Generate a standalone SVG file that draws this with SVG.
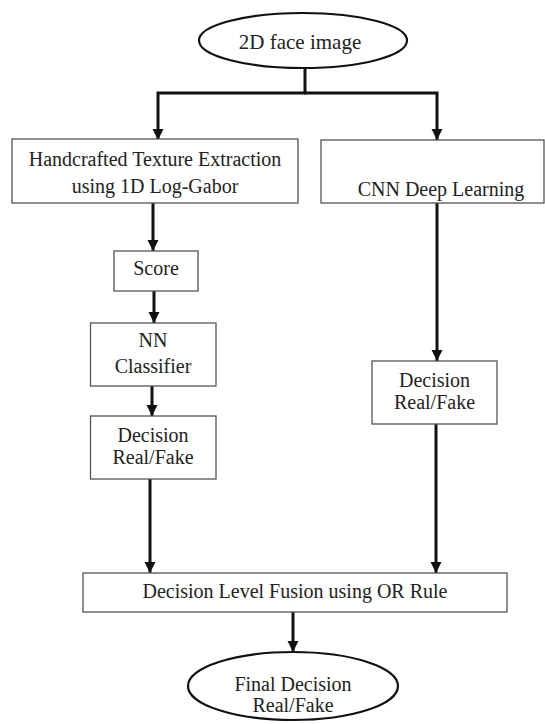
<svg xmlns="http://www.w3.org/2000/svg" width="545" height="724" viewBox="0 0 545 724">
<style>
.box{fill:#fff;stroke:#555;stroke-width:1.3}
.ell{fill:#fff;stroke:#111;stroke-width:2.2}
.t{font-family:'Liberation Serif','Tinos','DejaVu Serif','Noto Serif',serif;font-size:20px;fill:#222;text-anchor:middle}
.c{fill:none;stroke:#111;stroke-width:3}
</style>
<defs>
<marker id="ah" markerUnits="userSpaceOnUse" markerWidth="12" markerHeight="12" refX="11" refY="6" orient="auto">
<path d="M0,0.5 L11,6 L0,11.5 Z" fill="#111"/>
</marker>
</defs>
<rect width="545" height="724" fill="#fff"/>
<g id="connectors">
<path class="c" d="M305,68 V93"/>
<path class="c" d="M306,93 H158 V140" marker-end="url(#ah)"/>
<path class="c" d="M304,93 H437 V140" marker-end="url(#ah)"/>
<path class="c" d="M153,203 V251" marker-end="url(#ah)"/>
<path class="c" d="M154,291 V323" marker-end="url(#ah)"/>
<path class="c" d="M152,386 V416" marker-end="url(#ah)"/>
<path class="c" d="M150,479 V573" marker-end="url(#ah)"/>
<path class="c" d="M437,203 V361" marker-end="url(#ah)"/>
<path class="c" d="M436,424 V573" marker-end="url(#ah)"/>
<path class="c" d="M293,612 V652" marker-end="url(#ah)"/>
</g>
<g font-family="Liberation Serif, serif">
<g id="start">
<ellipse class="ell" cx="303" cy="40.5" rx="104" ry="27.5"/>
<text class="t" x="300" y="49" font-family="Liberation Serif, serif" style="font-size:21px">2D face image</text>
</g>
<g id="handcrafted">
<rect class="box" x="12" y="139" width="286" height="64"/>
<text class="t" x="155" y="165.5" font-family="Liberation Serif, serif">Handcrafted Texture Extraction</text>
<text class="t" x="155" y="193" font-family="Liberation Serif, serif">using 1D Log-Gabor</text>
</g>
<g id="cnn">
<rect class="box" x="321" y="140" width="223" height="63"/>
<text class="t" x="441" y="196" font-family="Liberation Serif, serif">CNN Deep Learning</text>
</g>
<g id="score">
<rect class="box" x="114" y="251" width="84" height="40"/>
<text class="t" x="156" y="275" font-family="Liberation Serif, serif">Score</text>
</g>
<g id="nn">
<rect class="box" x="90.5" y="323" width="125.5" height="63"/>
<text class="t" x="153" y="347" font-family="Liberation Serif, serif">NN</text>
<text class="t" x="153" y="373" font-family="Liberation Serif, serif">Classifier</text>
</g>
<g id="decision-left">
<rect class="box" x="90.5" y="416" width="125.5" height="63"/>
<text class="t" x="153" y="442" font-family="Liberation Serif, serif">Decision</text>
<text class="t" x="153" y="464" font-family="Liberation Serif, serif">Real/Fake</text>
</g>
<g id="decision-right">
<rect class="box" x="372" y="361" width="125" height="63"/>
<text class="t" x="434.5" y="387" font-family="Liberation Serif, serif">Decision</text>
<text class="t" x="434.5" y="409" font-family="Liberation Serif, serif">Real/Fake</text>
</g>
<g id="fusion">
<rect class="box" x="83" y="573" width="424" height="39"/>
<text class="t" x="295" y="598" font-family="Liberation Serif, serif">Decision Level Fusion using OR Rule</text>
</g>
<g id="final">
<ellipse class="ell" cx="293" cy="686" rx="105" ry="34"/>
<text class="t" x="293" y="691" font-family="Liberation Serif, serif">Final Decision</text>
<text class="t" x="293" y="712" font-family="Liberation Serif, serif">Real/Fake</text>
</g>
</g>
</svg>
